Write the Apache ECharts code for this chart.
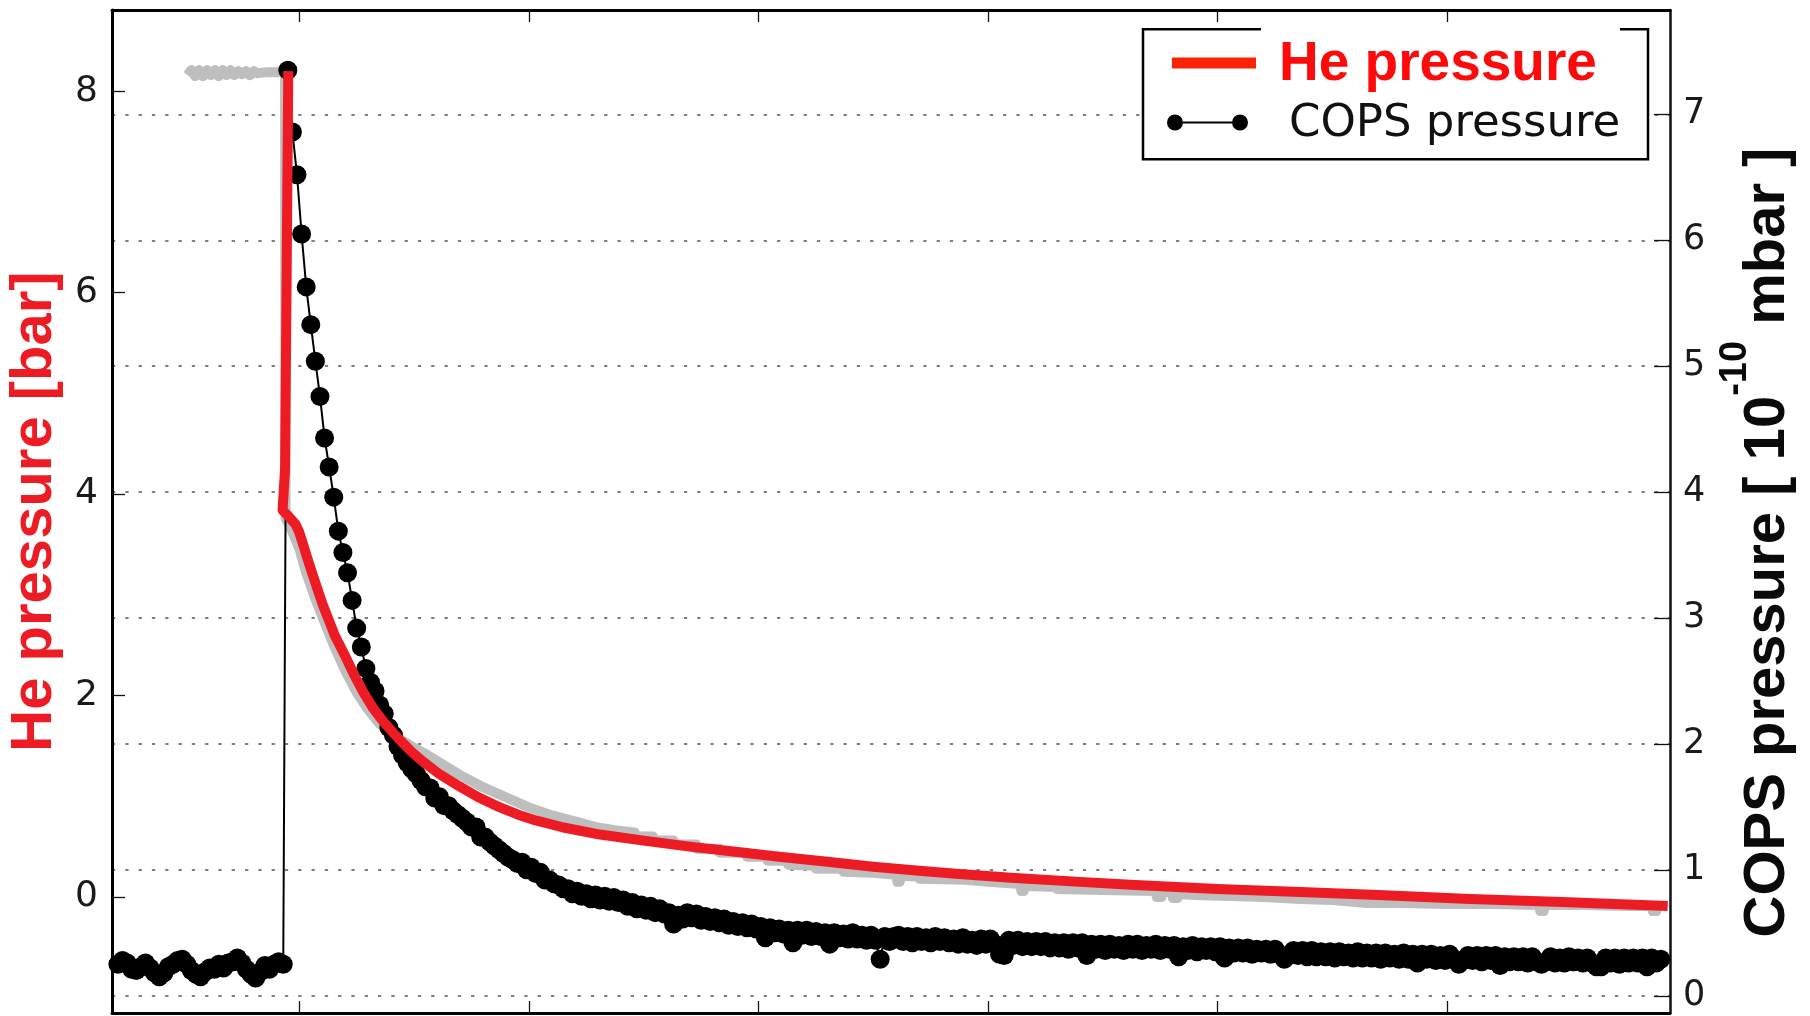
<!DOCTYPE html>
<html>
<head>
<meta charset="utf-8">
<title>He pressure and COPS pressure</title>
<script src="https://cdn.jsdelivr.net/npm/echarts@6/dist/echarts.min.js"></script>
<style>
  html, body { margin: 0; padding: 0; background: #ffffff; }
  #chart { width: 1810px; height: 1016px; }
</style>
</head>
<body>
<div id="chart"></div>
<script>
// Tick positions on the three axes
const timeTicks = [10, 20, 30, 40, 50, 60];
const heTicks = [0, 2, 4, 6, 8];
const copsTicks = [0, 1, 2, 3, 4, 5, 6, 7];

// COPS gauge readings, one sample every copsStep starting at copsStart
const copsStart = 2.1;
const copsStep = 0.2;
const copsBaseline = [
  0.25, 0.28, 0.26, 0.21, 0.20, 0.23, 0.26, 0.22, 0.18, 0.15,
  0.18, 0.23, 0.25, 0.28, 0.29, 0.25, 0.20, 0.17, 0.15, 0.19,
  0.22, 0.21, 0.25, 0.22, 0.26, 0.27, 0.30, 0.26, 0.21, 0.17,
  0.14, 0.19, 0.24, 0.21, 0.25, 0.27, 0.25
];
const copsDecay = [
  7.35, 6.86, 6.52, 6.05, 5.63, 5.33, 5.04, 4.76, 4.43, 4.20,
  3.96, 3.69, 3.52, 3.36, 3.14, 2.92, 2.77, 2.60, 2.49, 2.42,
  2.31, 2.24, 2.13, 2.07, 1.98, 1.91, 1.85, 1.80, 1.76, 1.71,
  1.66, 1.65, 1.57, 1.58, 1.51, 1.51, 1.47, 1.44, 1.41, 1.38,
  1.34, 1.34, 1.26, 1.26, 1.22, 1.19, 1.16, 1.13, 1.10, 1.08,
  1.05, 1.06, 1.00, 1.02, 0.97, 0.98, 0.92, 0.92, 0.89, 0.88,
  0.85, 0.85, 0.81
];
const copsTail = [
  0.83, 0.79, 0.81, 0.77, 0.80, 0.76, 0.79, 0.75, 0.78, 0.74,
  0.76, 0.71, 0.74, 0.69, 0.72, 0.68, 0.71, 0.66, 0.69, 0.65,
  0.66, 0.57, 0.64, 0.61, 0.66, 0.62, 0.65, 0.60, 0.63, 0.59,
  0.62, 0.58, 0.61, 0.56, 0.59, 0.55, 0.58, 0.54, 0.57, 0.53,
  0.55, 0.46, 0.54, 0.50, 0.53, 0.49, 0.52, 0.42, 0.52, 0.48,
  0.52, 0.47, 0.51, 0.47, 0.50, 0.41, 0.50, 0.46, 0.49, 0.45,
  0.50, 0.45, 0.48, 0.44, 0.48, 0.44, 0.29, 0.47, 0.43, 0.47,
  0.48, 0.43, 0.47, 0.42, 0.47, 0.43, 0.46, 0.42, 0.47, 0.43,
  0.46, 0.42, 0.45, 0.41, 0.46, 0.41, 0.44, 0.40, 0.45, 0.41,
  0.45, 0.41, 0.33, 0.32, 0.44, 0.40, 0.44, 0.39, 0.43, 0.39,
  0.43, 0.39, 0.43, 0.38, 0.42, 0.38, 0.42, 0.37, 0.42, 0.38,
  0.42, 0.32, 0.41, 0.37, 0.41, 0.36, 0.41, 0.37, 0.40, 0.36,
  0.41, 0.37, 0.41, 0.36, 0.40, 0.37, 0.41, 0.36, 0.40, 0.37,
  0.40, 0.31, 0.39, 0.36, 0.40, 0.35, 0.39, 0.36, 0.39, 0.35,
  0.39, 0.30, 0.38, 0.34, 0.38, 0.34, 0.38, 0.33, 0.37, 0.34,
  0.37, 0.33, 0.37, 0.33, 0.29, 0.32, 0.36, 0.32, 0.36, 0.31,
  0.36, 0.31, 0.35, 0.31, 0.35, 0.30, 0.35, 0.31, 0.34, 0.30,
  0.35, 0.30, 0.34, 0.30, 0.34, 0.29, 0.34, 0.30, 0.33, 0.29,
  0.34, 0.29, 0.33, 0.26, 0.33, 0.29, 0.33, 0.28, 0.32, 0.28,
  0.33, 0.29, 0.25, 0.28, 0.32, 0.28, 0.32, 0.27, 0.32, 0.28,
  0.32, 0.24, 0.31, 0.27, 0.31, 0.27, 0.31, 0.26, 0.31, 0.27,
  0.25, 0.27, 0.31, 0.26, 0.30, 0.26, 0.31, 0.27, 0.30, 0.26,
  0.30, 0.26, 0.23, 0.23, 0.30, 0.26, 0.30, 0.25, 0.30, 0.26,
  0.30, 0.26, 0.30, 0.23, 0.30, 0.26, 0.29
];

// Raw He line pressure [time, bar]
const heRaw = [
  [5.13, 8.16], [5.30, 8.21], [5.47, 8.15], [5.64, 8.21], [5.81, 8.15], [5.98, 8.21],
  [6.15, 8.16], [6.32, 8.21], [6.49, 8.15], [6.66, 8.21], [6.83, 8.16], [7.00, 8.21],
  [7.17, 8.16], [7.34, 8.20], [7.50, 8.17], [7.68, 8.20], [7.85, 8.16], [8.02, 8.20],
  [8.20, 8.18], [8.60, 8.19], [9.00, 8.19], [9.38, 8.19],
  [9.40, 3.76], [9.60, 3.68], [10.0, 3.46], [10.3, 3.22], [10.7, 2.96], [11.1, 2.73],
  [11.5, 2.50], [12.0, 2.25], [12.5, 2.03], [13.0, 1.86], [13.5, 1.72], [14.0, 1.63],
  [14.5, 1.55], [15.0, 1.48], [15.5, 1.42], [16.0, 1.35], [16.5, 1.28], [17.0, 1.21],
  [17.5, 1.15], [18.0, 1.09], [19.0, 0.99], [20.0, 0.89], [21.0, 0.81], [22.0, 0.75],
  [23.0, 0.69], [23.8, 0.66], [24.6, 0.64], [24.6, 0.60], [25.4, 0.60], [25.4, 0.56],
  [26.3, 0.56], [26.3, 0.52], [27.3, 0.52], [27.3, 0.48], [28.3, 0.48], [28.3, 0.44],
  [29.5, 0.44], [29.5, 0.40], [30.4, 0.40], [30.4, 0.36], [31.3, 0.36], [31.3, 0.32],
  [32.5, 0.31], [32.5, 0.28], [33.7, 0.28], [33.7, 0.25], [35.0, 0.24], [36.0, 0.22],
  [36.05, 0.15], [36.15, 0.15], [36.2, 0.21], [37.0, 0.20], [37.0, 0.18], [39.0, 0.17],
  [40.0, 0.15], [41.4, 0.13], [41.45, 0.06], [41.55, 0.06], [41.6, 0.11], [43.0, 0.10],
  [43.0, 0.08], [45.0, 0.07], [47.3, 0.06], [47.35, 0.00], [47.55, 0.00], [47.6, 0.05],
  [48.0, 0.05], [48.05, -0.01], [48.25, -0.01], [48.3, 0.03], [49.0, 0.02], [50.5, 0.01],
  [52.0, 0.00], [53.6, -0.02], [55.0, -0.03], [56.5, -0.06], [58.0, -0.06], [60.0, -0.07],
  [62.0, -0.07], [64.0, -0.08], [64.05, -0.14], [64.2, -0.14], [64.25, -0.08], [66.0, -0.08],
  [68.0, -0.09], [68.9, -0.09], [68.95, -0.14], [69.1, -0.14], [69.15, -0.09], [69.3, -0.09]
];

// Smoothed He pressure [time, bar]
const heFit = [
  [9.52, 8.20], [9.38, 4.25], [9.27, 3.84], [9.53, 3.78], [9.84, 3.70], [10.0, 3.62],
  [10.14, 3.52], [10.34, 3.37], [10.54, 3.23], [10.8, 3.05], [11.04, 2.89], [11.3, 2.74],
  [11.54, 2.60], [11.96, 2.41], [12.4, 2.20], [12.8, 2.03], [13.2, 1.88], [13.63, 1.75],
  [14.05, 1.64], [14.46, 1.54], [14.9, 1.44], [15.3, 1.36], [16.1, 1.22], [16.96, 1.10],
  [17.8, 0.99], [18.63, 0.90], [19.5, 0.82], [20.3, 0.76], [21.5, 0.69], [23.1, 0.62],
  [25.0, 0.56], [27.0, 0.50], [29.0, 0.45], [30.9, 0.40], [33.0, 0.35], [35.0, 0.30],
  [37.0, 0.26], [38.6, 0.23], [41.0, 0.19], [44.0, 0.15], [46.4, 0.12], [50.0, 0.08],
  [53.6, 0.05], [57.0, 0.02], [61.0, -0.02], [65.0, -0.05], [69.6, -0.09]
];

const copsValues = copsBaseline.concat(copsDecay, copsTail);
const copsData = copsValues.map((v, i) => [+(copsStart + i * copsStep).toFixed(2), v]);

const tickFont = 'DejaVu Sans';
const titleFont = 'Liberation Sans';

// Legend symbols: a thick bar, and a line with a dot at each end
const heIcon = 'path://M0,0 M109,20 M7,2.5 L91,2.5 L91,13.5 L7,13.5 Z';
const copsIcon = 'path://M0,0 M109,20 M18,7 L67,7 L67,9 L18,9 Z ' +
  'M2,8 A8,8 0 1,0 18,8 A8,8 0 1,0 2,8 Z M67,8 A8,8 0 1,0 83,8 A8,8 0 1,0 67,8 Z';

function timeAxis(position) {
  return {
    type: 'value',
    position: position,
    min: 1.842,
    max: 69.70,
    axisLine: { show: true, onZero: false, lineStyle: { color: '#000', width: 3 } },
    axisTick: { show: true, inside: true, length: 12, customValues: timeTicks,
                lineStyle: { color: '#111', width: 1.3 } },
    axisLabel: { show: false },
    splitLine: { show: false }
  };
}

const chart = echarts.init(document.getElementById('chart'), null, { renderer: 'canvas' });

chart.setOption({
  animation: false,
  backgroundColor: '#ffffff',
  grid: { left: 112, right: 140, top: 10, bottom: 3, containLabel: false, outerBoundsMode: 'none' },
  xAxis: [timeAxis('bottom'), timeAxis('top')],
  yAxis: [
    {
      type: 'value',
      position: 'left',
      min: -1.152,
      max: 8.807,
      axisLine: { show: true, onZero: false, lineStyle: { color: '#000', width: 3 } },
      axisTick: { show: true, inside: true, length: 13, customValues: heTicks,
                  lineStyle: { color: '#111', width: 1.3 } },
      axisLabel: { show: true, customValues: heTicks, margin: 14, fontFamily: tickFont,
                   fontSize: 36, color: '#1a1a1a', padding: [0, 0, 8, 0] },
      splitLine: { show: false },
      name: 'He pressure [bar]',
      nameLocation: 'middle',
      nameRotate: 90,
      nameGap: 40,
      nameTextStyle: { color: '#ed1c24', fontFamily: titleFont, fontWeight: 'bold',
                       fontSize: 58, lineHeight: 58 }
    },
    {
      type: 'value',
      position: 'right',
      min: -0.137,
      max: 7.829,
      axisLine: { show: true, onZero: false, lineStyle: { color: '#111', width: 2.5 } },
      axisTick: { show: true, inside: true, length: 16, customValues: copsTicks,
                  lineStyle: { color: '#111', width: 1.3 } },
      axisLabel: { show: true, customValues: copsTicks, margin: 13, fontFamily: tickFont,
                   fontSize: 35, color: '#1a1a1a', padding: [0, 0, 6, 0] },
      splitLine: { show: true, lineStyle: { type: [3.3, 10], color: '#555', width: 1.5 } },
      name: '{m|COPS pressure [ 10}{s|-10}{m| mbar ]}',
      nameLocation: 'middle',
      nameRotate: 90,
      nameGap: 44,
      nameTextStyle: {
        padding: [0, 62, 0, 0],
        rich: {
          m: { fontFamily: titleFont, fontWeight: 'bold', fontSize: 58, lineHeight: 103,
               color: '#0a0a0a' },
          s: { fontFamily: titleFont, fontWeight: 'bold', fontSize: 38, lineHeight: 38,
               verticalAlign: 'top', color: '#0a0a0a' }
        }
      }
    }
  ],
  legend: {
    orient: 'vertical',
    left: 1165,
    top: 37,
    padding: 0,
    itemWidth: 109,
    itemHeight: 20,
    itemGap: 9,
    selectedMode: false,
    itemStyle: { borderWidth: 0 },
    data: [
      { name: 'He pressure', icon: heIcon, itemStyle: { color: '#ff2200', borderWidth: 0 },
        textStyle: { color: '#ff0a0a', fontFamily: titleFont, fontWeight: 'bold',
                     fontSize: 55, lineHeight: 56 } },
      { name: 'COPS pressure', icon: copsIcon, itemStyle: { color: '#000', borderWidth: 0 },
        textStyle: { color: '#111', fontFamily: tickFont, fontSize: 45, lineHeight: 44,
                     padding: [0, 0, 0, 10] } }
    ]
  },
  graphic: {
    elements: [
      { type: 'rect', z: 3, silent: true,
        shape: { x: 1143, y: 29.3, width: 505, height: 130 },
        style: { fill: '#ffffff' } },
      { type: 'polyline', z: 5, silent: true,
        shape: { points: [[1261, 29.3], [1143, 29.3], [1143, 159.3], [1648, 159.3], [1648, 29.3], [1620, 29.3]] },
        style: { stroke: '#000', lineWidth: 2.5, fill: null } }
    ]
  },
  series: [
    {
      name: 'He raw',
      type: 'line',
      xAxisIndex: 0,
      yAxisIndex: 0,
      data: heRaw,
      symbol: 'none',
      silent: true,
      z: 1,
      lineStyle: { color: '#bebebe', width: 10, join: 'round' }
    },
    {
      name: 'COPS pressure',
      type: 'line',
      xAxisIndex: 0,
      yAxisIndex: 1,
      data: copsData,
      symbol: 'circle',
      symbolSize: 19,
      showAllSymbol: true,
      silent: true,
      z: 2,
      itemStyle: { color: '#000' },
      lineStyle: { color: '#000', width: 2 }
    },
    {
      name: 'He pressure',
      type: 'line',
      xAxisIndex: 0,
      yAxisIndex: 0,
      data: heFit,
      symbol: 'none',
      silent: true,
      z: 3,
      lineStyle: { color: '#ed1c24', width: 10, join: 'round' }
    }
  ]
});
</script>
</body>
</html>
